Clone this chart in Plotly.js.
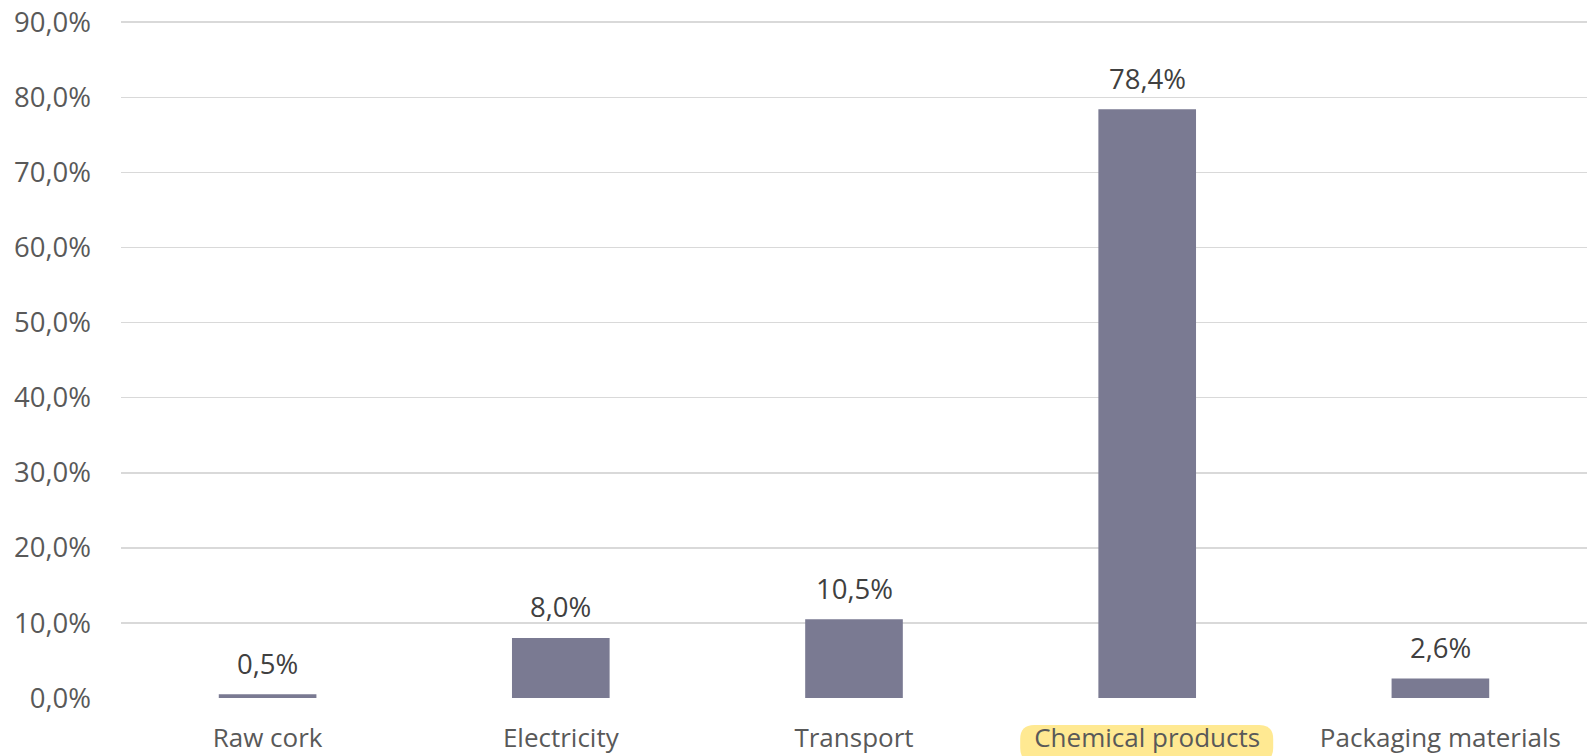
<!DOCTYPE html>
<html>
<head>
<meta charset="utf-8">
<script src="https://cdn.plot.ly/plotly-3.0.1.min.js"></script>
<style>html,body{margin:0;padding:0;background:#fff;}#chart{width:1587px;height:756px;}</style>
</head>
<body>
<div id="chart"></div>
<script>
var categories = ['Raw cork', 'Electricity', 'Transport', 'Chemical products', 'Packaging materials'];
var shares = [0.5, 8.0, 10.5, 78.4, 2.6];
var yTickValues = [0, 10, 20, 30, 40, 50, 60, 70, 80, 90];
var highlightedCategory = 'Chemical products';

function fmt(v) { return v.toFixed(1).replace('.', ',') + '%'; }

var FONT = 'Open Sans, sans-serif';

var trace = {
  type: 'bar',
  x: categories,
  y: shares,
  marker: { color: '#7a7a92' },
  hoverinfo: 'skip'
};

var annotations = categories.map(function (c, i) {
  return {
    x: c, y: shares[i], xref: 'x', yref: 'y',
    text: fmt(shares[i]),
    showarrow: false,
    yanchor: 'middle',
    yshift: 31,
    font: { family: FONT, size: 27.5, color: '#404040' }
  };
});

var layout = {
  width: 1587, height: 756,
  margin: { l: 121, r: 0, t: 20, b: 58 },
  paper_bgcolor: '#ffffff',
  plot_bgcolor: '#ffffff',
  separators: ',.',
  showlegend: false,
  bargap: 0.667,
  font: { family: FONT, size: 26, color: '#595959' },
  xaxis: {
    type: 'category',
    showgrid: false,
    zeroline: false,
    showline: false,
    ticks: '',
    ticklabelstandoff: 22,
    tickfont: { family: FONT, size: 26, color: '#595959' },
    fixedrange: true
  },
  yaxis: {
    range: [0, 90.3],
    tickvals: yTickValues,
    ticktext: yTickValues.map(fmt),
    showgrid: true,
    gridcolor: '#d9d9d9',
    gridwidth: 1.6,
    zeroline: false,
    showline: false,
    ticks: '',
    ticklabelstandoff: 29,
    tickfont: { family: FONT, size: 27.5, color: '#595959' },
    fixedrange: true
  },
  shapes: [{
    type: 'path',
    layer: 'below',
    xref: 'x', yref: 'paper',
    xsizemode: 'pixel', ysizemode: 'pixel',
    xanchor: categories.indexOf(highlightedCategory), yanchor: 0,
    path: 'M -113,-27 L 112,-27 Q 126,-27 126,-41 L 126,-50 Q 126,-64 112,-64 L -113,-64 Q -127,-64 -127,-50 L -127,-41 Q -127,-27 -113,-27 Z',
    fillcolor: '#ffe992',
    line: { width: 0 }
  }],
  annotations: annotations
};

Plotly.newPlot('chart', [trace], layout, { displayModeBar: false, staticPlot: true });
</script>
</body>
</html>
